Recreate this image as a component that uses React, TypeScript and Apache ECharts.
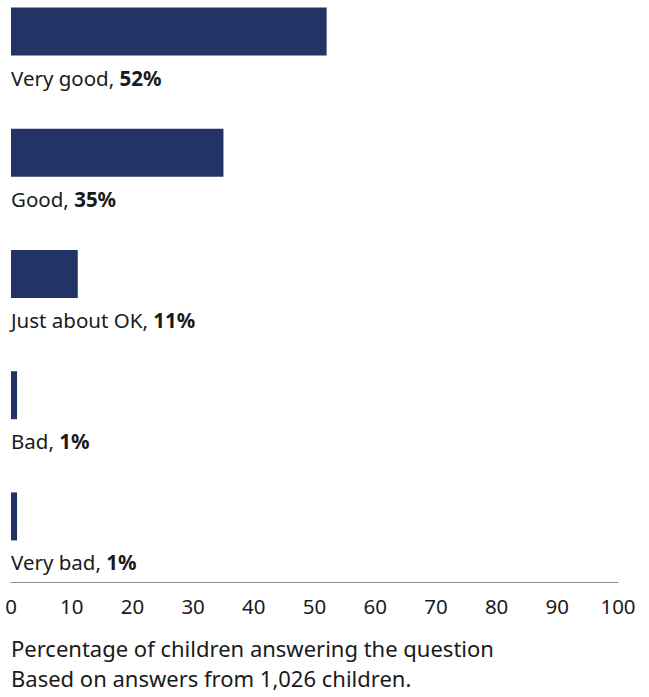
import React, { useEffect, useRef } from "react";
import * as echarts from "echarts";

const categories = ["Very good", "Good", "Just about OK", "Bad", "Very bad"];
const values = [52, 35, 11, 1, 1];
const xTicks = [0, 10, 20, 30, 40, 50, 60, 70, 80, 90, 100];
const axisTitle = "Percentage of children answering the question";
const note = "Based on answers from 1,026 children.";

const FONT = "'Noto Sans', 'Open Sans', sans-serif";
const BAR = "#233366";
const TEXT = "#1a1a1a";

export default function App() {
  const ref = useRef<HTMLDivElement>(null);
  useEffect(() => {
    if (!ref.current) return;
    const chart = echarts.init(ref.current, undefined, { renderer: "svg" });
    chart.setOption({
      animation: false,
      textStyle: { fontFamily: FONT },
      grid: { left: 11, right: 31, top: -29, height: 606, outerBoundsMode: "none", containLabel: false },
      xAxis: {
        type: "value",
        min: xTicks[0],
        max: xTicks[xTicks.length - 1],
        interval: 10,
        offset: 5,
        splitLine: { show: false },
        axisLine: { show: true, lineStyle: { color: "#8c8c8c", width: 1 } },
        axisTick: { show: false },
        axisLabel: { color: TEXT, fontSize: 20.5, margin: 13, fontFamily: FONT },
      },
      yAxis: {
        type: "category",
        data: categories,
        inverse: true,
        show: false,
      },
      series: [
        {
          type: "bar",
          data: values,
          barWidth: 48,
          itemStyle: { color: BAR },
          label: {
            show: true,
            position: [0, 70],
            align: "left",
            verticalAlign: "middle",
            formatter: (p: any) => `{n|${categories[p.dataIndex]}, }{v|${p.value}%}`,
            rich: {
              n: { fontSize: 20.5, color: TEXT, fontFamily: FONT },
              v: { fontSize: 20.5, color: TEXT, fontWeight: "bold", fontFamily: FONT },
            },
          },
        },
      ],
      graphic: [
        {
          type: "text",
          left: 11,
          top: 637,
          style: { text: axisTitle, fontSize: 22, fill: TEXT, fontFamily: FONT },
        },
        {
          type: "text",
          left: 11,
          top: 667,
          style: { text: note, fontSize: 22, fill: TEXT, fontFamily: FONT },
        },
      ],
    });
    return () => chart.dispose();
  }, []);
  return <div ref={ref} style={{ width: 649, height: 697, position: "absolute", left: 0, top: 0 }} />;
}
